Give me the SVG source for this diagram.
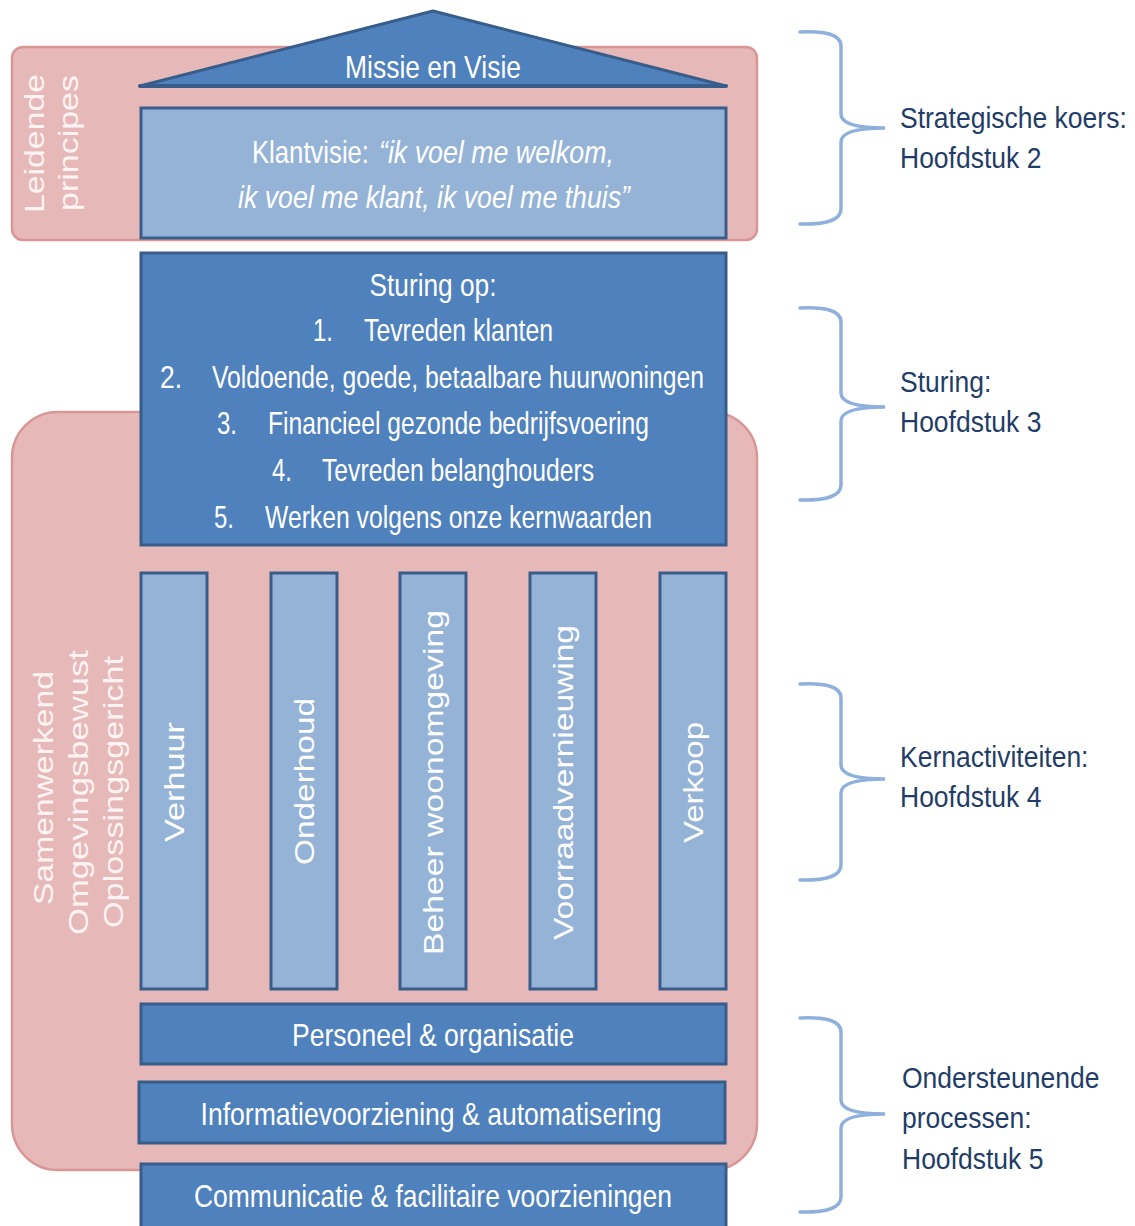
<svg xmlns="http://www.w3.org/2000/svg" width="1135" height="1226" viewBox="0 0 1135 1226">
<defs>
<style>
.pink{fill:#e6b9b8;stroke:#d99694;stroke-width:2.5}
.dark{fill:#4f81bd;stroke:#385d8a;stroke-width:3}
.light{fill:#95b3d7;stroke:#385d8a;stroke-width:3}
.t{font-family:"Liberation Sans Narrow","Liberation Sans",Arial,sans-serif;font-size:30.5px;fill:#ffffff}
.tc{text-anchor:middle}
.v{font-family:"Liberation Sans",Arial,sans-serif;font-size:28px;fill:#ffffff}
.vp{font-family:"Liberation Sans",Arial,sans-serif;font-size:28px;fill:#fdf3f3}
.lab{font-family:"Liberation Sans",Arial,sans-serif;font-size:26.5px;fill:#1f3d66}
.brace{fill:none;stroke:#8fb0dc;stroke-width:3.5;stroke-linecap:round}
</style>
</defs>
<rect width="1135" height="1226" fill="#ffffff"/>

<g id="leidende-principes">
<rect class="pink" x="12" y="47" width="745" height="193" rx="11"/>
<text class="vp" transform="translate(44,213) rotate(-90)" textLength="139" lengthAdjust="spacingAndGlyphs">Leidende</text>
<text class="vp" transform="translate(78,211) rotate(-90)" textLength="136" lengthAdjust="spacingAndGlyphs">principes</text>
</g>

<g id="kernwaarden">
<rect class="pink" x="12" y="412" width="745" height="758" rx="46"/>
<text class="vp" transform="translate(53,905) rotate(-90)" textLength="234" lengthAdjust="spacingAndGlyphs">Samenwerkend</text>
<text class="vp" transform="translate(88,935) rotate(-90)" textLength="285" lengthAdjust="spacingAndGlyphs">Omgevingsbewust</text>
<text class="vp" transform="translate(123,928) rotate(-90)" textLength="272" lengthAdjust="spacingAndGlyphs">Oplossingsgericht</text>
</g>

<g id="missie-visie">
<polygon class="dark" points="433,11 140,86 726,86" stroke-linejoin="round"/>
<line x1="140" y1="86" x2="726" y2="86" stroke="#385d8a" stroke-width="4" stroke-linecap="round"/>
<text class="t tc" x="433" y="78" font-size="28" textLength="176" lengthAdjust="spacingAndGlyphs">Missie en Visie</text>
</g>

<g id="klantvisie">
<rect class="light" x="141" y="108" width="585" height="130"/>
<text class="t" x="252" y="163" textLength="117" lengthAdjust="spacingAndGlyphs">Klantvisie:</text>
<text class="t" x="379" y="163" font-style="italic" textLength="235" lengthAdjust="spacingAndGlyphs">“ik voel me welkom,</text>
<text class="t" x="238" y="208" font-style="italic" textLength="392" lengthAdjust="spacingAndGlyphs">ik voel me klant, ik voel me thuis”</text>
</g>

<g id="sturing">
<rect class="dark" x="141" y="253" width="585" height="292"/>
<text class="t tc" x="433" y="296" textLength="127" lengthAdjust="spacingAndGlyphs">Sturing op:</text>
<text class="t" x="313" y="341" textLength="20" lengthAdjust="spacingAndGlyphs">1.</text>
<text class="t" x="364" y="341" textLength="189" lengthAdjust="spacingAndGlyphs">Tevreden klanten</text>
<text class="t" x="160" y="388" textLength="22" lengthAdjust="spacingAndGlyphs">2.</text>
<text class="t" x="212" y="388" textLength="492" lengthAdjust="spacingAndGlyphs">Voldoende, goede, betaalbare huurwoningen</text>
<text class="t" x="217" y="434" textLength="20" lengthAdjust="spacingAndGlyphs">3.</text>
<text class="t" x="268" y="434" textLength="381" lengthAdjust="spacingAndGlyphs">Financieel gezonde bedrijfsvoering</text>
<text class="t" x="272" y="481" textLength="20" lengthAdjust="spacingAndGlyphs">4.</text>
<text class="t" x="322" y="481" textLength="272" lengthAdjust="spacingAndGlyphs">Tevreden belanghouders</text>
<text class="t" x="214" y="528" textLength="20" lengthAdjust="spacingAndGlyphs">5.</text>
<text class="t" x="265" y="528" textLength="387" lengthAdjust="spacingAndGlyphs">Werken volgens onze kernwaarden</text>
</g>

<g id="pijler-verhuur">
<rect class="light" x="141" y="573" width="66" height="416"/>
<text class="v" transform="translate(184,842) rotate(-90)" textLength="120" lengthAdjust="spacingAndGlyphs">Verhuur</text>
</g>
<g id="pijler-onderhoud">
<rect class="light" x="271" y="573" width="66" height="416"/>
<text class="v" transform="translate(314,865) rotate(-90)" textLength="167" lengthAdjust="spacingAndGlyphs">Onderhoud</text>
</g>
<g id="pijler-beheer">
<rect class="light" x="400" y="573" width="66" height="416"/>
<text class="v" transform="translate(443,955) rotate(-90)" textLength="345" lengthAdjust="spacingAndGlyphs">Beheer woonomgeving</text>
</g>
<g id="pijler-voorraad">
<rect class="light" x="530" y="573" width="66" height="416"/>
<text class="v" transform="translate(573,940) rotate(-90)" textLength="315" lengthAdjust="spacingAndGlyphs">Voorraadvernieuwing</text>
</g>
<g id="pijler-verkoop">
<rect class="light" x="660" y="573" width="66" height="416"/>
<text class="v" transform="translate(703,843) rotate(-90)" textLength="121" lengthAdjust="spacingAndGlyphs">Verkoop</text>
</g>

<g id="personeel">
<rect class="dark" x="141" y="1004" width="585" height="60"/>
<text class="t tc" x="433" y="1046" textLength="282" lengthAdjust="spacingAndGlyphs">Personeel &amp; organisatie</text>
</g>
<g id="informatie">
<rect class="dark" x="139" y="1082" width="586" height="61"/>
<text class="t tc" x="431" y="1125" textLength="461" lengthAdjust="spacingAndGlyphs">Informatievoorziening &amp; automatisering</text>
</g>
<g id="communicatie">
<rect class="dark" x="141" y="1164" width="585" height="70"/>
<text class="t tc" x="433" y="1207" textLength="478" lengthAdjust="spacingAndGlyphs">Communicatie &amp; facilitaire voorzieningen</text>
</g>

<g id="connectors">
<path class="brace" d="M800,32 Q841,30 841,46 L841,114 Q841,128 885,128 Q841,128 841,142 L841,209 Q841,225 800,224"/>
<path class="brace" d="M800,308 Q841,306 841,322 L841,393 Q841,407 885,407 Q841,407 841,421 L841,485 Q841,501 800,500"/>
<path class="brace" d="M800,684 Q841,682 841,698 L841,765 Q841,779 885,779 Q841,779 841,793 L841,865 Q841,881 800,880"/>
<path class="brace" d="M800,1018 Q841,1016 841,1032 L841,1100 Q841,1114 885,1114 Q841,1114 841,1128 L841,1197 Q841,1213 800,1212"/>
</g>

<g id="labels">
<text class="lab" transform="translate(900,128) scale(1,1.12)">Strategische koers:</text>
<text class="lab" transform="translate(900,168) scale(1,1.12)">Hoofdstuk 2</text>
<text class="lab" transform="translate(900,392) scale(1,1.12)">Sturing:</text>
<text class="lab" transform="translate(900,432) scale(1,1.12)">Hoofdstuk 3</text>
<text class="lab" transform="translate(900,767) scale(1,1.12)">Kernactiviteiten:</text>
<text class="lab" transform="translate(900,807) scale(1,1.12)">Hoofdstuk 4</text>
<text class="lab" transform="translate(902,1088) scale(1,1.12)">Ondersteunende</text>
<text class="lab" transform="translate(902,1128) scale(1,1.12)">processen:</text>
<text class="lab" transform="translate(902,1169) scale(1,1.12)">Hoofdstuk 5</text>
</g>
</svg>
